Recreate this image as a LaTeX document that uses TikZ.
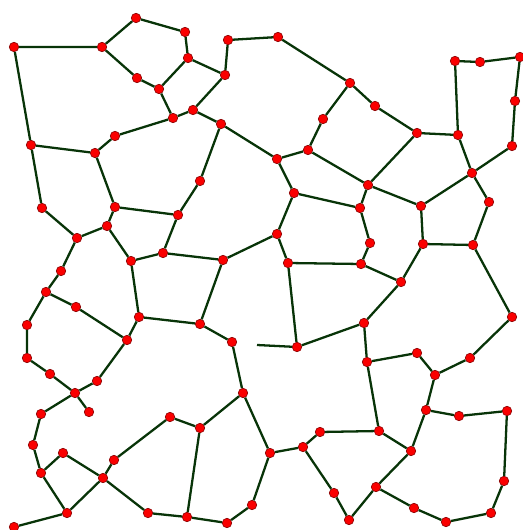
\documentclass[tikz,border=0pt]{standalone}
\usepackage{tikz}
\usetikzlibrary{positioning}
\definecolor{edgegreen}{RGB}{8,52,8}
\definecolor{vtxred}{RGB}{250,0,0}

\begin{document}
\begin{tikzpicture}[
        x=0.02cm, y=-0.02cm,
        vtx/.style={circle, inner sep=0pt, minimum size=0.19cm, fill=vtxred, draw=vtxred!55!black, line width=0.35pt},
        edge/.style={draw=edgegreen, line width=1.3pt}
    ]
        \useasboundingbox (0,0) rectangle (523,530);

        % top left
        \node[vtx] (tl1) at (14,47) {};   \node[vtx] (tl2) at (102,47) {};
        \node[vtx] (tl3) at (136,18) {};  \node[vtx] (tl4) at (185,32) {};
        \node[vtx] (tl5) at (188,58) {};  \node[vtx] (tl6) at (137,78) {};
        \node[vtx] (tl7) at (159,89) {};  \node[vtx] (tl8) at (173,118) {};
        \node[vtx] (tl9) at (115,136) {}; \node[vtx] (tl10) at (31,145) {};
        \node[vtx] (tl11) at (95,153) {};

        % top centre
        \node[vtx] (tc1) at (228,40) {};  \node[vtx] (tc2) at (278,37) {};
        \node[vtx] (tc3) at (225,75) {};  \node[vtx] (tc4) at (193,110) {};
        \node[vtx] (tc5) at (221,124) {}; \node[vtx] (tc6) at (350,83) {};
        \node[vtx] (tc7) at (323,119) {}; \node[vtx] (tc8) at (308,150) {};
        \node[vtx] (tc9) at (277,159) {}; \node[vtx] (tc10) at (200,181) {};

        % top right
        \node[vtx] (tr1) at (375,106) {}; \node[vtx] (tr2) at (417,133) {};
        \node[vtx] (tr3) at (455,61) {};  \node[vtx] (tr4) at (480,62) {};
        \node[vtx] (tr5) at (520,57) {};  \node[vtx] (tr6) at (515,101) {};
        \node[vtx] (tr7) at (458,135) {}; \node[vtx] (tr8) at (512,146) {};
        \node[vtx] (tr9) at (472,173) {};

        % middle left
        \node[vtx] (ml1) at (42,208) {};  \node[vtx] (ml2) at (115,207) {};
        \node[vtx] (ml3) at (107,226) {}; \node[vtx] (ml4) at (178,215) {};
        \node[vtx] (ml5) at (77,238) {};  \node[vtx] (ml6) at (163,253) {};
        \node[vtx] (ml7) at (131,261) {}; \node[vtx] (ml8) at (61,271) {};
        \node[vtx] (ml9) at (46,292) {};  \node[vtx] (ml10) at (76,307) {};
        \node[vtx] (ml11) at (139,317) {};\node[vtx] (ml12) at (27,325) {};
        \node[vtx] (ml13) at (127,340) {};

        % middle
        \node[vtx] (mc1) at (294,193) {}; \node[vtx] (mc2) at (277,234) {};
        \node[vtx] (mc3) at (223,260) {}; \node[vtx] (mc4) at (288,263) {};
        \node[vtx] (mc5) at (200,324) {}; \node[vtx] (mc6) at (232,342) {};
        \node[vtx] (mc7) at (297,347) {};
        \coordinate (loose) at (257,345);

        % middle right
        \node[vtx] (mr1) at (368,185) {}; \node[vtx] (mr2) at (360,208) {};
        \node[vtx] (mr3) at (421,206) {}; \node[vtx] (mr4) at (489,202) {};
        \node[vtx] (mr5) at (370,243) {}; \node[vtx] (mr6) at (423,244) {};
        \node[vtx] (mr7) at (473,245) {}; \node[vtx] (mr8) at (361,264) {};
        \node[vtx] (mr9) at (401,282) {}; \node[vtx] (mr10) at (364,323) {};
        \node[vtx] (mr11) at (512,317) {};

        % bottom left
        \node[vtx] (bl1) at (27,358) {};  \node[vtx] (bl2) at (50,374) {};
        \node[vtx] (bl3) at (97,381) {};  \node[vtx] (bl4) at (75,393) {};
        \node[vtx] (bl5) at (89,412) {};  \node[vtx] (bl6) at (41,414) {};
        \node[vtx] (bl7) at (33,445) {};  \node[vtx] (bl8) at (170,417) {};
        \node[vtx] (bl9) at (63,453) {};  \node[vtx] (bl10) at (114,460) {};
        \node[vtx] (bl11) at (41,473) {}; \node[vtx] (bl12) at (103,478) {};
        \node[vtx] (bl13) at (67,513) {}; \node[vtx] (bl14) at (148,513) {};
        \node[vtx] (bl15) at (14,527) {};

        % bottom centre
        \node[vtx] (bc1) at (243,393) {}; \node[vtx] (bc2) at (200,428) {};
        \node[vtx] (bc3) at (270,453) {}; \node[vtx] (bc4) at (303,447) {};
        \node[vtx] (bc5) at (320,432) {}; \node[vtx] (bc6) at (334,493) {};
        \node[vtx] (bc7) at (252,505) {}; \node[vtx] (bc8) at (187,517) {};
        \node[vtx] (bc9) at (227,523) {}; \node[vtx] (bc10) at (349,520) {};

        % bottom right
        \node[vtx] (br1) at (367,362) {}; \node[vtx] (br2) at (417,353) {};
        \node[vtx] (br3) at (470,358) {}; \node[vtx] (br4) at (435,375) {};
        \node[vtx] (br5) at (426,410) {}; \node[vtx] (br6) at (459,416) {};
        \node[vtx] (br7) at (507,411) {}; \node[vtx] (br8) at (379,431) {};
        \node[vtx] (br9) at (411,451) {}; \node[vtx] (br10) at (504,481) {};
        \node[vtx] (br11) at (376,487) {};\node[vtx] (br12) at (414,508) {};
        \node[vtx] (br13) at (491,513) {};\node[vtx] (br14) at (446,522) {};

        % edges
        \draw[edge] (tl10) -- (tl1) -- (tl2) -- (tl3) -- (tl4) -- (tl5) -- (tl7) -- (tl6) -- (tl2);
        \draw[edge] (tl7) -- (tl8) -- (tl9) -- (tl11) -- (tl10);
        \draw[edge] (tl5) -- (tc3) -- (tc1) -- (tc2) -- (tc6) -- (tc7) -- (tc8) -- (tc9) -- (tc5) -- (tc4) -- (tc3);
        \draw[edge] (tc4) -- (tl8);
        \draw[edge] (tc5) -- (tc10) -- (ml4);
        \draw[edge] (tc9) -- (mc1);
        \draw[edge] (tc8) -- (mr1);
        \draw[edge] (tc6) -- (tr1) -- (tr2) -- (tr7) -- (tr3) -- (tr4) -- (tr5) -- (tr6) -- (tr8) -- (tr9) -- (tr7);
        \draw[edge] (tr2) -- (mr1);
        \draw[edge] (tr9) -- (mr3);
        \draw[edge] (tr9) -- (mr4);

        \draw[edge] (tl10) -- (ml1) -- (ml5) -- (ml3) -- (ml2) -- (tl11);
        \draw[edge] (ml2) -- (ml4) -- (ml6) -- (ml7) -- (ml3);
        \draw[edge] (ml5) -- (ml8) -- (ml9) -- (ml10) -- (ml13) -- (ml11) -- (ml7);
        \draw[edge] (ml9) -- (ml12) -- (bl1);
        \draw[edge] (ml6) -- (mc3);
        \draw[edge] (ml11) -- (mc5);
        \draw[edge] (ml13) -- (bl3);

        \draw[edge] (mc1) -- (mc2) -- (mc3) -- (mc5) -- (mc6) -- (bc1);
        \draw[edge] (mc2) -- (mc4) -- (mc7) -- (loose);
        \draw[edge] (mc1) -- (mr2);
        \draw[edge] (mc4) -- (mr8);
        \draw[edge] (mc7) -- (mr10);

        \draw[edge] (mr2) -- (mr1) -- (mr3) -- (mr6) -- (mr7) -- (mr4);
        \draw[edge] (mr2) -- (mr5) -- (mr8) -- (mr9) -- (mr6);
        \draw[edge] (mr9) -- (mr10) -- (br1);
        \draw[edge] (mr7) -- (mr11) -- (br3);

        \draw[edge] (bl1) -- (bl2) -- (bl4) -- (bl3);
        \draw[edge] (bl4) -- (bl5);
        \draw[edge] (bl4) -- (bl6) -- (bl7) -- (bl11) -- (bl9) -- (bl12) -- (bl14) -- (bc8);
        \draw[edge] (bl11) -- (bl13) -- (bl12) -- (bl10) -- (bl8) -- (bc2);
        \draw[edge] (bl13) -- (bl15);

        \draw[edge] (bc2) -- (bc1) -- (bc3) -- (bc4) -- (bc5) -- (br8);
        \draw[edge] (bc2) -- (bc8) -- (bc9) -- (bc7) -- (bc3);
        \draw[edge] (bc4) -- (bc6) -- (bc10);

        \draw[edge] (br8) -- (br1) -- (br2) -- (br4) -- (br3);
        \draw[edge] (br4) -- (br5) -- (br6) -- (br7) -- (br10) -- (br13) -- (br14) -- (br12) -- (br11) -- (bc10);
        \draw[edge] (br11) -- (br9) -- (br5);
        \draw[edge] (br9) -- (br8);
    \end{tikzpicture}
\end{document}
